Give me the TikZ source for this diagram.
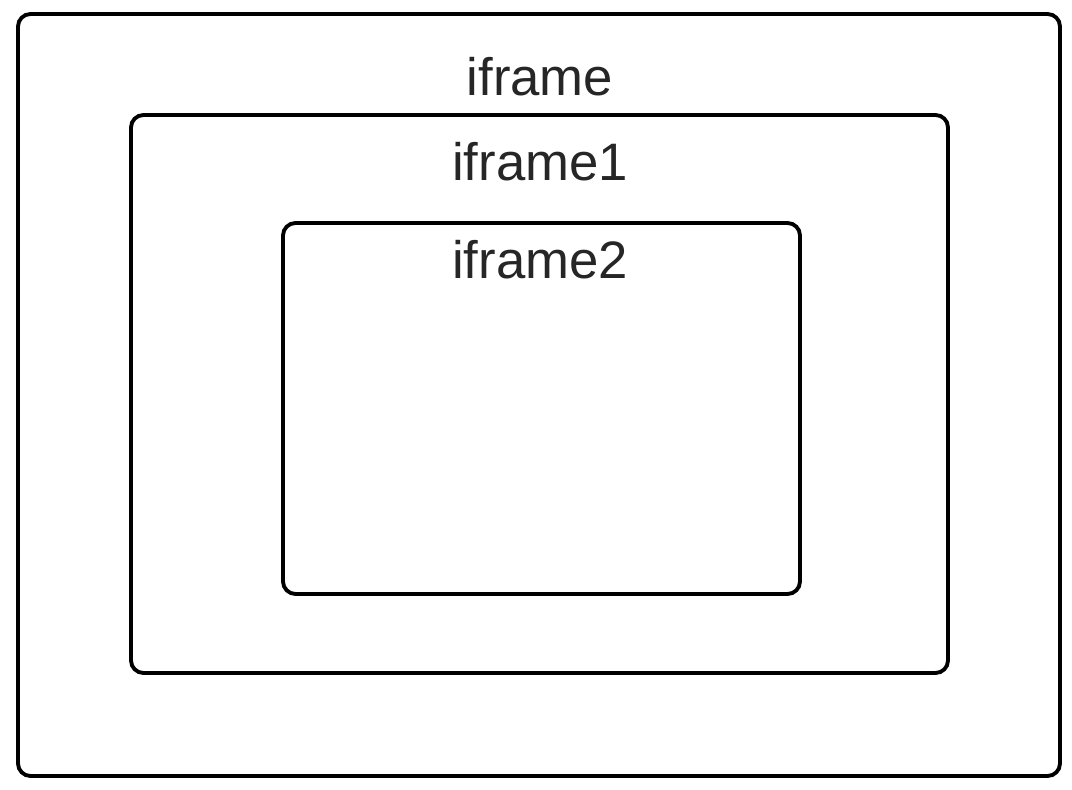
\documentclass[tikz,border=0pt]{standalone}
\usepackage{fontspec}
\setmainfont{Liberation Sans}

\begin{document}
\begin{tikzpicture}
        \tikzstyle{frame}=[rectangle, draw=black, line width=2.2pt, rounded corners=0.25cm, inner sep=0pt]
        \tikzstyle{label}=[inner sep=0pt, font=\fontsize{30}{32}\selectfont, text=black!85]

        \useasboundingbox (0,0) rectangle (21.44,-15.8);

        \node[frame, minimum width=20.84cm, minimum height=15.24cm] (outer)  at (10.78,-7.90) {};
        \node[frame, minimum width=16.34cm, minimum height=11.16cm] (middle) at (10.79,-7.88) {};
        \node[frame, minimum width=10.34cm, minimum height=7.42cm]  (inner)  at (10.83,-8.17) {};

        \node[label] (iframe)  at (10.80,-1.54) {iframe};
        \node[label] (iframe1) at (10.80,-3.24) {iframe1};
        \node[label] (iframe2) at (10.80,-5.20) {iframe2};
    \end{tikzpicture}
\end{document}
